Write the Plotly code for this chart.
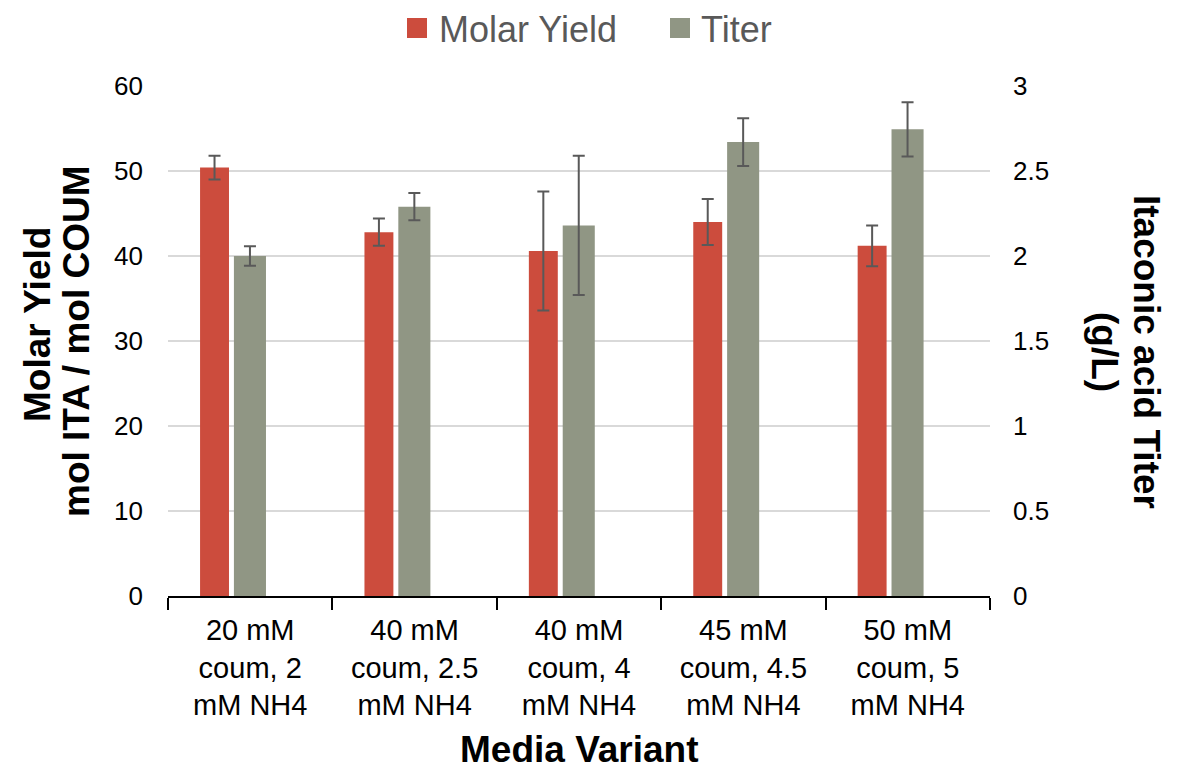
import plotly.graph_objects as go

categories = ["20 mM<br>coum, 2<br>mM NH4", "40 mM<br>coum, 2.5<br>mM NH4", "40 mM<br>coum, 4<br>mM NH4",
              "45 mM<br>coum, 4.5<br>mM NH4", "50 mM<br>coum, 5<br>mM NH4"]
molar_yield = [50.4, 42.8, 40.6, 44.0, 41.2]
molar_yield_err = [1.4, 1.6, 7.0, 2.7, 2.4]
titer = [2.0, 2.29, 2.18, 2.67, 2.745]
titer_err = [0.058, 0.08, 0.41, 0.14, 0.16]
series_names = ["Molar Yield", "Titer"]

FONT = "Liberation Sans, Arial, sans-serif"
RED = "#CC4C3D"
GRAY = "#909684"
ERR = "#595959"

# page has an 8px body margin; figure is sized so it fits the 1185x769 window
OFF = 8
W, H = 1185 - OFF, 769 - OFF
# plot area in page pixels: x 168..990, y 86..596
L, R, T, B = 168 - OFF, 1185 - 990, 86 - OFF, 769 - 596
PW, PH = W - L - R, H - T - B


def px_x(px):
    return (px - OFF - L) / PW


def px_y(py):
    return (H - B - (py - OFF)) / PH


fig = go.Figure()
fig.add_trace(go.Bar(
    x=categories, y=molar_yield, name=series_names[0], marker=dict(color=RED, line=dict(width=0)),
    width=0.176, offset=-0.305,
    error_y=dict(type="data", array=molar_yield_err, color=ERR, thickness=2, width=6),
    yaxis="y", showlegend=False,
))
fig.add_trace(go.Bar(
    x=categories, y=titer, name=series_names[1], marker=dict(color=GRAY, line=dict(width=0)),
    width=0.195, offset=-0.099,
    error_y=dict(type="data", array=titer_err, color=ERR, thickness=2, width=6),
    yaxis="y2", showlegend=False,
))

# manual legend (large square swatches)
legend_items = [(series_names[0], RED, 407, 438), (series_names[1], GRAY, 670, 700)]
shapes = []
annotations = []
for name, col, sx, tx in legend_items:
    shapes.append(dict(type="rect", xref="paper", yref="paper",
                       x0=px_x(sx), x1=px_x(sx + 20), y0=px_y(38), y1=px_y(18),
                       fillcolor=col, line=dict(width=0)))
    annotations.append(dict(text=name, xref="paper", yref="paper", x=px_x(tx), y=px_y(30),
                            xanchor="left", yanchor="middle", showarrow=False, borderpad=0,
                            font=dict(size=36, color=ERR, family=FONT)))

bold = dict(size=37, color="black", family=FONT)
annotations += [
    dict(text="<b>Molar Yield</b>", xref="paper", yref="paper", x=px_x(37), y=px_y(325),
         xanchor="center", yanchor="middle", textangle=-90, showarrow=False, font=bold),
    dict(text="<b>mol ITA / mol COUM</b>", xref="paper", yref="paper", x=px_x(76), y=px_y(342),
         xanchor="center", yanchor="middle", textangle=-90, showarrow=False, font=bold),
    dict(text="<b>Itaconic acid Titer</b>", xref="paper", yref="paper", x=px_x(1146), y=px_y(352),
         xanchor="center", yanchor="middle", textangle=90, showarrow=False, font=bold),
    dict(text="<b>(g/L)</b>", xref="paper", yref="paper", x=px_x(1104), y=px_y(352),
         xanchor="center", yanchor="middle", textangle=90, showarrow=False, font=bold),
    dict(text="<b>Media Variant</b>", xref="paper", yref="paper", x=px_x(579), y=px_y(749),
         xanchor="center", yanchor="middle", showarrow=False, font=bold),
]

fig.update_layout(
    width=W, height=H,
    margin=dict(l=L, r=R, t=T, b=B, autoexpand=False),
    paper_bgcolor="white", plot_bgcolor="white",
    font=dict(family=FONT, color="black", size=26),
    barmode="overlay",
    showlegend=False,
    shapes=shapes,
    annotations=annotations,
    xaxis=dict(
        type="category",
        showline=True, linecolor="black", linewidth=2,
        ticks="outside", tickson="boundaries", ticklen=12, tickwidth=2, tickcolor="black",
        showgrid=False, zeroline=False, ticklabelstandoff=7,
        tickfont=dict(size=29, color="black"),
    ),
    yaxis=dict(
        range=[0, 60], dtick=10, showgrid=True, gridcolor="#D9D9D9", gridwidth=2,
        zeroline=False, showline=False, ticks="", ticklabelstandoff=24,
        tickfont=dict(size=26, color="black"),
    ),
    yaxis2=dict(
        range=[0, 3], dtick=0.5, overlaying="y", side="right", showgrid=False,
        zeroline=False, showline=False, ticks="", ticklabelstandoff=22,
        tickfont=dict(size=26, color="black"),
    ),
)

fig.write_html("out.html")
